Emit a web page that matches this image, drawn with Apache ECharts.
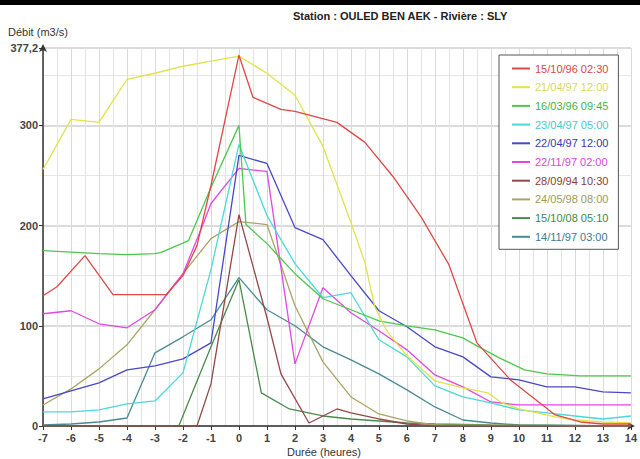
<!DOCTYPE html>
<html>
<head>
<meta charset="utf-8">
<script src="https://cdn.jsdelivr.net/npm/echarts@6/dist/echarts.min.js"></script>
<style>
html,body{margin:0;padding:0;background:#fff;}
#c{width:640px;height:459px;}
</style>
</head>
<body>
<div id="c"></div>
<script>
const chartTitle = 'Station : OULED BEN AEK - Rivière : SLY';
const yName = 'Débit (m3/s)';
const xName = 'Durée (heures)';
const xMin = -7, xMax = 14, yMin = 0, yMax = 377.2;

const seriesNames = ['15/10/96 02:30','21/04/97 12:00','16/03/96 09:45','23/04/97 05:00','22/04/97 12:00',
  '22/11/97 02:00','28/09/94 10:30','24/05/98 08:00','15/10/08 05:10','14/11/97 03:00'];

const s_151096 = [[-7,130],[-6.5,139],[-5.5,170],[-4.5,131],[-2.6,131],[-2,150],[-1.5,180],[-1,240],[0,370],[0.5,328],[1.5,316],[2,314],[3.5,303],[4.5,283],[5.5,249],[6.5,209],[7.5,161],[8.5,83],[9.7,46],[11.3,11],[12.2,4],[13,2],[14,2]];
const s_210497 = [[-7,256],[-6,306],[-5,303],[-4,346],[-3,352],[-2,359],[-1,364],[0,369],[1,352],[2,330],[3,279],[4,203],[4.5,163],[4.85,119],[5.3,94],[6,70],[7,45],[8,38],[8.9,33],[9.4,23],[10,17],[11.3,9],[12,6],[13,4],[14,3]];
const s_160396 = [[-7,175],[-5,172],[-4,171],[-3,172],[-2.8,173],[-1.8,185],[-1,238],[0,300],[0.25,201],[1,182],[2,152],[3,127],[4,116],[5,105],[6,100],[7,96],[8,88],[8.5,80],[9.3,68],[10.2,56],[11,52],[12.2,50],[14,50]];
const s_230497 = [[-7,14],[-6,14],[-5,16],[-4,22],[-3,25],[-2,53],[-1,156],[0,281],[1,210],[2,162],[3,128],[4,133],[5,86],[6,69],[7,40],[8,29],[9,23],[10,16],[11,13],[12,10],[13,7],[14,10]];
const s_220497 = [[-7,27],[-6,35],[-5,43],[-4,56],[-3,60],[-2,67],[-1,83],[0,270],[1,262],[2,198],[3,186],[4,150],[5,115],[6,99],[7,79],[8,69],[9,49],[10,46],[11,39],[12,39],[13,34],[14,33]];
const s_221197 = [[-7,112],[-6,115],[-5,102],[-4,98],[-3,116],[-2,152],[-1.3,200],[-1,222],[0,257],[1,254],[2,62],[3,138],[4,113],[5,95],[6,76],[7,51],[8,39],[9,24],[10,21],[14,21]];
const s_280994 = [[-7,0],[-1.5,0],[-1,42],[0,211],[1,108],[1.5,52],[2.5,3],[3.5,17],[4,13],[5,7],[6,2],[7,0],[14,0]];
const s_240598 = [[-7,21],[-6,37],[-5,57],[-4,81],[-3,116],[-2,152],[-1,187],[0,204],[1,201],[2,120],[3,64],[4,29],[5,12],[6,5],[7,1],[14,0]];
const s_151008 = [[-7,0],[-2.15,0],[-1,79],[0,146],[0.8,33],[1.8,17],[3,10],[4,7],[5,5],[6,3],[7,2],[9,1],[14,0]];
const s_141197 = [[-7,1],[-6,2],[-5,4],[-4,8],[-3,73],[-2,89],[-1,106],[0,148],[1,116],[2,100],[3,79],[4,66],[5,52],[6,36],[7,19],[8,6],[9,3],[10,1],[14,0]];

const seriesData = [s_151096,s_210497,s_160396,s_230497,s_220497,s_221197,s_280994,s_240598,s_151008,s_141197];

const lineColors = ['#e04848','#e2e24a','#4cc84c','#4cd8d8','#4848c8','#e048e0','#944848','#a8a466','#4a8a4a','#4a8a94'];
const textColors = ['#d84848','#d8d860','#44b444','#48c8d0','#3838b0','#d448d4','#8a3c3c','#9a9a5a','#3c8c3c','#3c7c90'];

const chart = echarts.init(document.getElementById('c'), null, {renderer:'svg'});
const font = 'Arial, "Liberation Sans", sans-serif';

chart.setOption({
  animation:false,
  backgroundColor:'#fff',
  textStyle:{fontFamily:font},
  grid:{left:43, right:5, top:48, bottom:33, containLabel:false},
  xAxis:{
    type:'value', min:xMin, max:xMax, interval:1,
    axisLine:{show:true, onZero:false, lineStyle:{color:'#333', width:1.5}, symbol:['none','arrow'], symbolSize:[6,8], symbolOffset:[0,4]},
    axisTick:{show:true, length:4, lineStyle:{color:'#333'}},
    axisLabel:{color:'#444', fontSize:11, fontWeight:'bold', margin:6},
    splitLine:{show:true, lineStyle:{color:'#dadada', width:1}},
    minorTick:{show:false, splitNumber:2},
    minorSplitLine:{show:true, lineStyle:{color:'#e4e4e4', width:1}}
  },
  yAxis:{
    type:'value', min:yMin, max:yMax, interval:100,
    axisLine:{show:true, onZero:false, lineStyle:{color:'#333', width:1.5}, symbol:['none','arrow'], symbolSize:[6,8], symbolOffset:[0,4]},
    axisTick:{show:true, length:4, lineStyle:{color:'#333'}},
    axisLabel:{color:'#444', fontSize:11, fontWeight:'bold', margin:5, showMaxLabel:true,
      formatter:function(v){return String(Math.round(v*10)/10).replace('.',',');}},
    splitLine:{show:true, lineStyle:{color:'#cfcfcf', width:1.5}},
    minorTick:{show:false, splitNumber:2},
    minorSplitLine:{show:true, lineStyle:{color:'#e6e6e6', width:1}}
  },
  legend:{
    orient:'vertical', left:499, top:55,
    padding:[8,10,7,13], itemGap:7.7, itemWidth:18, itemHeight:2,
    icon:'rect',
    backgroundColor:'#fff', borderColor:'#555', borderWidth:1,
    textStyle:{fontSize:11, fontFamily:font},
    data:seriesNames.map((n,i)=>({name:n, textStyle:{color:textColors[i]}}))
  },
  graphic:[
    {type:'rect', left:0, top:0, shape:{width:640, height:5}, style:{fill:'#000'}},
    {type:'text', left:293, top:10, style:{text:chartTitle, font:'bold 11px '+font, fill:'#222'}},
    {type:'text', left:8, top:26, style:{text:yName, font:'11px '+font, fill:'#333'}},
    {type:'text', left:287, top:446, style:{text:xName, font:'11px '+font, fill:'#333'}}
  ],
  series:seriesData.map((d,i)=>({
    name:seriesNames[i], type:'line', data:d, showSymbol:false, symbol:'none',
    lineStyle:{color:lineColors[i], width:1.3}, itemStyle:{color:lineColors[i]},
    z:10-i, silent:true
  })).reverse()
});
</script>
</body>
</html>
